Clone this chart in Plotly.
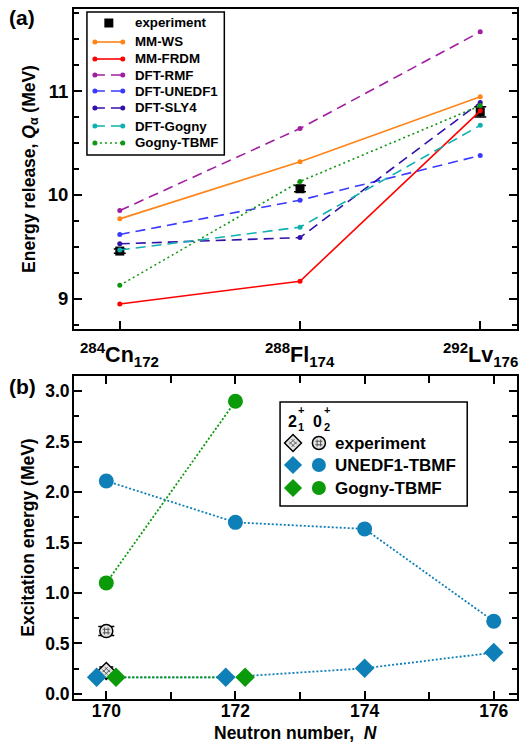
import plotly.graph_objects as go

# ---------------- panel (a) data ----------------
nuclei_labels = ["<sup>284</sup>Cn<sub>172</sub>",
                 "<sup>288</sup>Fl<sub>174</sub>",
                 "<sup>292</sup>Lv<sub>176</sub>"]
nuclei_idx = [0, 1, 2]
qa_experiment = [9.46, 10.06, 10.80]
qa_experiment_err = [0.02, 0.03, 0.05]
qa_mm_ws = [9.77, 10.32, 10.945]
qa_mm_frdm = [8.95, 9.17, 10.81]
qa_dft_rmf = [9.85, 10.64, 11.57]
qa_dft_unedf1 = [9.62, 9.95, 10.38]
qa_dft_sly4 = [9.53, 9.59, 10.89]
qa_dft_gogny = [9.47, 9.69, 10.67]
qa_gogny_tbmf = [9.13, 10.13, 10.86]

# ---------------- panel (b) data ----------------
neutron_number = [170, 172, 174, 176]
unedf1_e2 = [0.165, 0.165, 0.254, 0.41]
unedf1_e0 = [2.11, 1.70, 1.635, 0.72]
gogny_neutron = [170, 172]
gogny_e2 = [0.165, 0.165]
gogny_e0 = [1.10, 2.90]
exp_neutron = [170]
exp_e2 = [0.228]
exp_e2_err = [0.04]
exp_e0 = [0.623]
exp_e0_err = [0.045]

W, H = 525, 743
ML, MR, MT, MB = 74, 6, 9, 44
PW = W - ML - MR
PH = H - MT - MB
TOP_A, BOT_A = 9, 329      # pixel rows of panel (a) frame
TOP_B, BOT_B = 376, 699    # pixel rows of panel (b) frame


def px(x):
    return (x - ML) / PW


def py(y):
    return (H - MB - y) / PH


FONT = "Liberation Sans, Arial, Helvetica, sans-serif"
BLUE = "#0f7fb8"
GREEN = "#0a9a0a"

fig = go.Figure()

# ---- panel (a) ----
fig.add_trace(go.Scatter(
    x=nuclei_idx, y=qa_experiment, mode="markers", name="experiment", showlegend=False,
    marker=dict(symbol="square", size=9, color="black"),
    error_y=dict(type="data", array=qa_experiment_err, color="black", thickness=1.5, width=6),
    xaxis="x", yaxis="y"))

models_a = [
    ("MM-WS", qa_mm_ws, "#ff8418", "solid"),
    ("MM-FRDM", qa_mm_frdm, "#ff0000", "solid"),
    ("DFT-RMF", qa_dft_rmf, "#a01ea0", "10px,6px"),
    ("DFT-UNEDF1", qa_dft_unedf1, "#3a3aff", "10px,6px"),
    ("DFT-SLY4", qa_dft_sly4, "#3311a8", "10px,6px"),
    ("DFT-Gogny", qa_dft_gogny, "#10b0b0", "10px,6px"),
    ("Gogny-TBMF", qa_gogny_tbmf, "#109610", "2px,3px"),
]
for name, vals, col, dash in models_a:
    fig.add_trace(go.Scatter(
        x=nuclei_idx, y=vals, mode="lines+markers", name=name, showlegend=False,
        line=dict(color=col, width=1.6, dash=dash),
        marker=dict(color=col, size=5),
        xaxis="x", yaxis="y"))

# ---- panel (b) ----
unedf1_shift = [-0.15 if n in gogny_neutron else 0.0 for n in neutron_number]
unedf1_x2 = [n + s for n, s in zip(neutron_number, unedf1_shift)]
gogny_x2 = [n + 0.15 for n in gogny_neutron]

DOT = "2px,2px"
for xs, ys, col in [(neutron_number, unedf1_e0, BLUE), (unedf1_x2, unedf1_e2, BLUE),
                    (gogny_neutron, gogny_e0, GREEN), (gogny_x2, gogny_e2, GREEN)]:
    fig.add_trace(go.Scatter(x=xs, y=ys, mode="lines", showlegend=False,
                             line=dict(color=col, width=1.8, dash=DOT), xaxis="x2", yaxis="y2"))


def exp_markers(xs, ys, errs, symbol, xa, ya, cap):
    base = dict(symbol=symbol, size=13, color="#e4e4e4", line=dict(color="black", width=1.5))
    fig.add_trace(go.Scatter(
        x=xs, y=ys, mode="markers", showlegend=False, marker=base,
        error_y=None if errs is None else dict(type="data", array=errs, color="black",
                                                thickness=1.5, width=cap),
        xaxis=xa, yaxis=ya, hoverinfo="skip"))
    fig.add_trace(go.Scatter(
        x=xs, y=ys, mode="markers", showlegend=False,
        marker=dict(symbol="hash-open", size=7, angle=45 if symbol == "diamond" else 0,
                    color="#555555", line=dict(color="#555555", width=1)),
        xaxis=xa, yaxis=ya, hoverinfo="skip"))


exp_markers(exp_neutron, exp_e2, exp_e2_err, "diamond", "x2", "y2", 7)
exp_markers(exp_neutron, exp_e0, exp_e0_err, "circle", "x2", "y2", 8)

fig.add_trace(go.Scatter(x=unedf1_x2, y=unedf1_e2, mode="markers", showlegend=False,
                         marker=dict(symbol="diamond", size=15, color=BLUE), xaxis="x2", yaxis="y2"))
fig.add_trace(go.Scatter(x=neutron_number, y=unedf1_e0, mode="markers", showlegend=False,
                         marker=dict(symbol="circle", size=15, color=BLUE), xaxis="x2", yaxis="y2"))
fig.add_trace(go.Scatter(x=gogny_x2, y=gogny_e2, mode="markers", showlegend=False,
                         marker=dict(symbol="diamond", size=15, color=GREEN), xaxis="x2", yaxis="y2"))
fig.add_trace(go.Scatter(x=gogny_neutron, y=gogny_e0, mode="markers", showlegend=False,
                         marker=dict(symbol="circle", size=15, color=GREEN), xaxis="x2", yaxis="y2"))

# ---- legend keys (helper pixel axes overlaying each panel) ----
leg_a_rows = [23, 42, 59, 75, 91, 108, 126, 143]
fig.add_trace(go.Scatter(x=[109], y=[leg_a_rows[0]], mode="markers", showlegend=False, hoverinfo="skip",
                         marker=dict(symbol="square", size=9, color="black"), xaxis="x3", yaxis="y3"))
for (name, vals, col, dash), ry in zip(models_a, leg_a_rows[1:]):
    fig.add_trace(go.Scatter(x=[95, 123], y=[ry, ry], mode="lines+markers", showlegend=False,
                             hoverinfo="skip", line=dict(color=col, width=1.6, dash=dash),
                             marker=dict(color=col, size=5), xaxis="x3", yaxis="y3"))

leg_b_rows = [443, 465, 488]
KX_D, KX_C = 294, 320
exp_markers([KX_D], [leg_b_rows[0]], None, "diamond", "x4", "y4", 0)
exp_markers([KX_C], [leg_b_rows[0]], None, "circle", "x4", "y4", 0)
for ry, col in zip(leg_b_rows[1:], [BLUE, GREEN]):
    fig.add_trace(go.Scatter(x=[KX_D], y=[ry], mode="markers", showlegend=False, hoverinfo="skip",
                             marker=dict(symbol="diamond", size=14, color=col), xaxis="x4", yaxis="y4"))
    fig.add_trace(go.Scatter(x=[KX_C], y=[ry], mode="markers", showlegend=False, hoverinfo="skip",
                             marker=dict(symbol="circle", size=14, color=col), xaxis="x4", yaxis="y4"))

tickfont_a = dict(family=FONT, size=18.5, color="black", weight="bold")
tickfont_b = dict(family=FONT, size=17.5, color="black", weight="bold")
titlefont = dict(family=FONT, size=17.5, color="black", weight="bold")

common = dict(showgrid=False, zeroline=False, showline=True, linecolor="black", linewidth=2,
              ticks="inside", tickcolor="black", tickwidth=1.5, ticklen=8)
helper = dict(visible=False, showgrid=False, zeroline=False, fixedrange=True, showticklabels=False)

fig.update_layout(
    width=W, height=H,
    margin=dict(l=ML, r=MR, t=MT, b=MB),
    paper_bgcolor="white", plot_bgcolor="white",
    font=dict(family=FONT, color="black"),
    showlegend=False,
    xaxis=dict(domain=[0, 1], anchor="y", range=[-0.254, 2.204],
               tickvals=nuclei_idx, showticklabels=False, mirror=True, **common),
    yaxis=dict(domain=[py(BOT_A), py(TOP_A)], anchor="x", range=[8.71, 11.79],
               tickvals=[9, 10, 11], mirror="ticks", tickfont=tickfont_a, ticklabelstandoff=0,
               minor=dict(dtick=0.25, tick0=9, ticks="inside", ticklen=5, tickcolor="black", tickwidth=1.5),
               title=dict(text="Energy release, <i>Q</i><sub>α</sub> (MeV)", font=titlefont, standoff=8),
               **common),
    xaxis2=dict(domain=[0, 1], anchor="y2", range=[169.5, 176.36],
                tickvals=[170, 172, 174, 176], mirror="ticks", tickfont=tickfont_b, ticklabelstandoff=-5,
                minor=dict(dtick=1, tick0=170, ticks="inside", ticklen=7, tickcolor="black", tickwidth=1.5),
                **common),
    yaxis2=dict(domain=[0, py(TOP_B)], anchor="x2", range=[-0.05, 3.15],
                dtick=0.5, tick0=0, tickformat=".1f", mirror="ticks", tickfont=tickfont_b,
                ticklabelstandoff=-1,
                minor=dict(dtick=0.25, tick0=0, ticks="inside", ticklen=5, tickcolor="black", tickwidth=1.5),
                title=dict(text="Excitation energy (MeV)", font=titlefont, standoff=6),
                **common),
    xaxis3=dict(overlaying="x", range=[ML, W - MR], **helper),
    yaxis3=dict(overlaying="y", range=[BOT_A, TOP_A], **helper),
    xaxis4=dict(overlaying="x2", range=[ML, W - MR], **helper),
    yaxis4=dict(overlaying="y2", range=[BOT_B, TOP_B], **helper),
    shapes=[
        dict(type="rect", xref="paper", yref="paper", x0=px(87), x1=px(225), y0=py(155), y1=py(12),
             line=dict(color="black", width=1.5), fillcolor="white", layer="below"),
        dict(type="rect", xref="paper", yref="paper", x0=px(281), x1=px(469), y0=py(506), y1=py(402),
             line=dict(color="black", width=1.5), fillcolor="white", layer="below"),
    ],
)

ann = []


def text(x, y, s, size, xanchor="center", xref="paper"):
    ann.append(dict(x=x if xref != "paper" else px(x), y=py(y), xref=xref, yref="paper", text=s,
                    showarrow=False, xanchor=xanchor, yanchor="middle",
                    font=dict(family=FONT, size=size, color="black", weight="bold")))


text(7, 17, "(a)", 21, "left")
text(7, 386, "(b)", 21, "left")
# nucleus labels on panel (a) x axis
for i, lab in zip(nuclei_idx, nuclei_labels):
    text(i, 355, lab, 21.5, "center", xref="x")
# panel (b) x-axis title
text(ML + PW / 2, 733, "Neutron number,  <i>N</i>", 17.5)
# legend (a) texts
for s, ry in zip(["experiment"] + [m[0] for m in models_a], leg_a_rows):
    text(133, ry, s, 13.3, "left")
# legend (b) header and texts
text(293, 421, "2", 16)
text(302, 410, "+", 11)
text(302, 427, "1", 11)
text(319, 421, "0", 16)
text(328, 410, "+", 11)
text(328, 427, "2", 11)
for s, ry in zip(["experiment", "UNEDF1-TBMF", "Gogny-TBMF"], leg_b_rows):
    text(334, ry, s, 17, "left")
fig.update_layout(annotations=ann)

fig.write_html("out.html", config={"displayModeBar": False},
               post_script="document.body.style.margin='0';document.body.style.padding='0';")
